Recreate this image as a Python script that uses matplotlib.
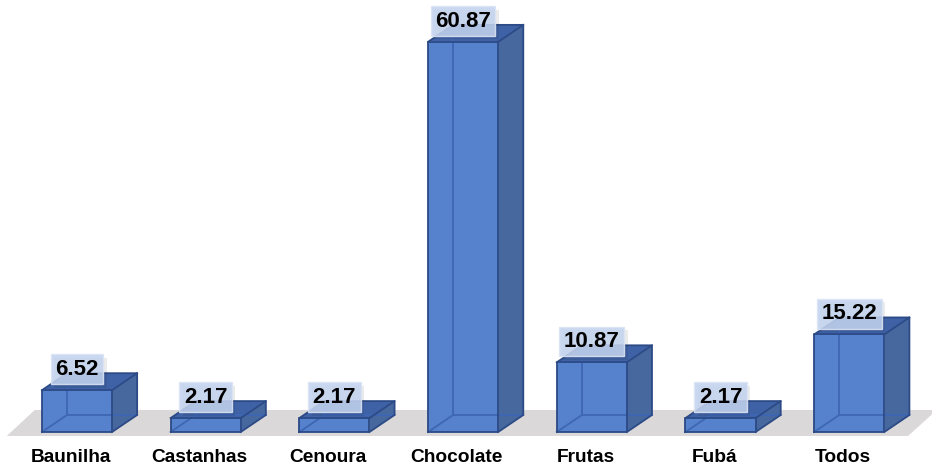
import matplotlib
matplotlib.use("Agg")
import matplotlib.pyplot as plt
import matplotlib.patheffects as pe
from matplotlib.patches import Polygon

plt.rcParams['font.family'] = ['Liberation Sans', 'DejaVu Sans']

categories = ["Baunilha", "Castanhas", "Cenoura", "Chocolate", "Frutas", "Fubá", "Todos"]
values = [6.52, 2.17, 2.17, 60.87, 10.87, 2.17, 15.22]
value_labels = ["6.52", "2.17", "2.17", "60.87", "10.87", "2.17", "15.22"]

# 3D-look geometry (category units on x, value units on y)
width = 0.545       # front face width
depth_x = 0.195     # oblique depth offset along x
depth_y = 2.65      # oblique depth offset along y

front_col = "#5581CD"
side_col = "#46689F"
top_col = "#3F62A6"
edge_col = "#2C4A86"
inner_col = "#3E66B3"

fig = plt.figure(figsize=(9.32, 4.68), dpi=100)
ax = fig.add_axes([0, 0, 1, 1])
ax.set_xlim(-0.598, 6.643)
ax.set_ylim(-5.62, 67.4)
ax.axis("off")

# floor
floor = Polygon([(-0.545, -0.62), (6.457, -0.62), (6.68, 3.43), (-0.328, 3.43)],
                closed=True, facecolor="#DAD8D8", edgecolor="none", zorder=1)
ax.add_patch(floor)

for i, (v, lab) in enumerate(zip(values, value_labels)):
    x0 = i - width / 2
    x1 = i + width / 2
    front = Polygon([(x0, 0), (x1, 0), (x1, v), (x0, v)], closed=True,
                    facecolor=front_col, edgecolor="none", zorder=3)
    side = Polygon([(x1, 0), (x1 + depth_x, depth_y), (x1 + depth_x, v + depth_y), (x1, v)],
                   closed=True, facecolor=side_col, edgecolor="none", zorder=3)
    top = Polygon([(x0, v), (x1, v), (x1 + depth_x, v + depth_y), (x0 + depth_x, v + depth_y)],
                  closed=True, facecolor=top_col, edgecolor="none", zorder=3)
    for p in (front, side, top):
        ax.add_patch(p)
    # hidden back edges seen through the translucent box
    ax.plot([x0 + depth_x, x0 + depth_x], [depth_y, v + depth_y], color=inner_col, lw=1.3, zorder=4)
    ax.plot([x0, x0 + depth_x, x1 + depth_x], [0, depth_y, depth_y], color=inner_col, lw=1.3, zorder=4)
    # visible outline
    ax.plot([x0, x1, x1, x0, x0], [0, 0, v, v, 0], color=edge_col, lw=1.3, zorder=5)
    ax.plot([x1, x1 + depth_x, x1 + depth_x, x0 + depth_x, x0],
            [0, depth_y, v + depth_y, v + depth_y, v], color=edge_col, lw=1.3, zorder=5)
    ax.plot([x1, x1 + depth_x], [v, v + depth_y], color=edge_col, lw=1.3, zorder=5)

    # value label in a translucent box with a soft shadow
    t = ax.annotate(lab, xy=(i, v), xytext=(0, 15), textcoords="offset points",
                    ha="center", va="center", fontsize=16, fontweight="bold", color="black",
                    bbox=dict(boxstyle="square,pad=0.2", facecolor="#C3D2EE", alpha=0.88,
                              edgecolor="#DCE5F4", lw=1.0),
                    zorder=6)
    t.get_bbox_patch().set_path_effects([
        pe.SimplePatchShadow(offset=(2.5, -2.5), shadow_rgbFace="black", alpha=0.08),
        pe.Normal(),
    ])

    # category label
    ax.annotate(categories[i], xy=(i, 0), xytext=(-4.5, -18.5), textcoords="offset points",
                ha="center", va="center", fontsize=13.8, fontweight="bold", color="black",
                zorder=6)

fig.savefig("out.png", dpi=100)
